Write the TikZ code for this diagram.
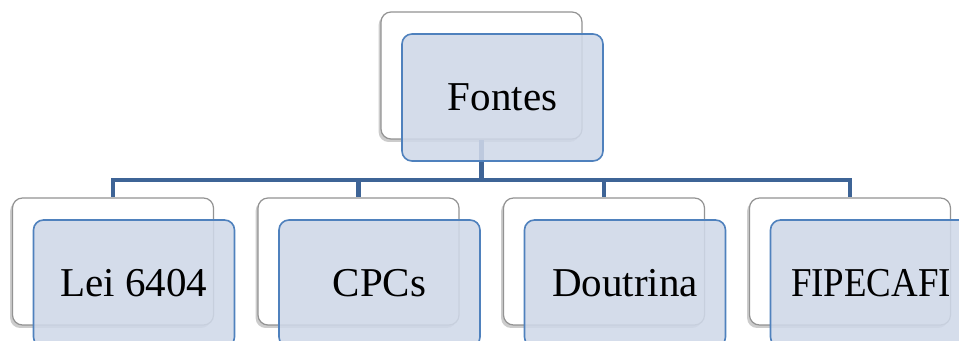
\documentclass[tikz,border=0pt]{standalone}
\usepackage{fontspec}
\setmainfont{Liberation Serif}
\usetikzlibrary{shadows}
\definecolor{contorno}{RGB}{79,129,189}
\definecolor{preenchimento}{RGB}{207,216,232}
\definecolor{ramo}{RGB}{62,100,150}

\begin{document}
\begin{tikzpicture}[x=0.5pt, y=-0.5pt,
    fundo/.style={draw=gray!85, fill=white, rounded corners=5pt,
        minimum width=100.5pt, minimum height=63.5pt, line width=0.6pt,
        drop shadow={shadow xshift=-1.2pt, shadow yshift=-1.5pt, opacity=0.4}},
    frente/.style={draw=contorno, fill=preenchimento, fill opacity=0.88,
        text opacity=1, rounded corners=5pt, minimum width=100.5pt,
        minimum height=63.5pt, line width=0.8pt,
        font=\fontsize{20.5}{24}\selectfont},
    ligacao/.style={draw=ramo, line width=2.4pt}]
    \useasboundingbox (0,0) rectangle (959,341);

    \node[fundo] (fontesFundo) at (481.5,75.5) {};
    \foreach \nome/\x in {lei/113, cpcs/358.5, doutrina/604, fipecafi/850}
        \node[fundo] (\nome Fundo) at (\x,261.5) {};

    \coordinate (juncao) at (481.5,180);
    \draw[ligacao] (fontesFundo.south) -- (juncao);
    \foreach \nome in {lei, cpcs, doutrina, fipecafi}
        \draw[ligacao] (juncao) -| (\nome Fundo.north);

    \node[frente] (fontes) at (502.5,97.5) {Fontes};
    \foreach \nome/\texto/\x in {lei/Lei 6404/134, cpcs/CPCs/379.5,
            doutrina/Doutrina/625,
            fipecafi/{\addfontfeatures{FakeStretch=0.9}FIPECAFI}/871}
        \node[frente] (\nome) at (\x,283.5) {\texto};
\end{tikzpicture}
\end{document}
